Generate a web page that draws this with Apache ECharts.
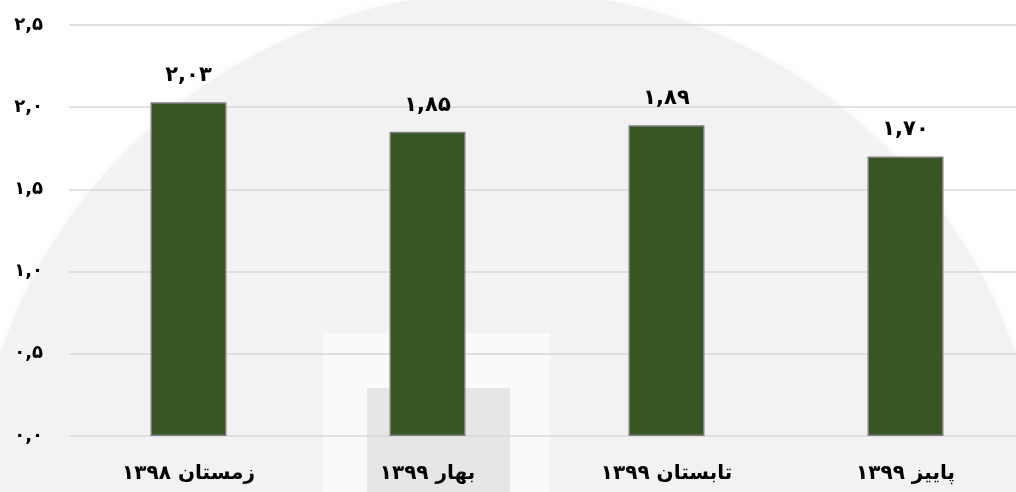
<!DOCTYPE html>
<html><head><meta charset="utf-8">
<script src="https://cdn.jsdelivr.net/npm/echarts@6/dist/echarts.min.js"></script>
<style>html,body{margin:0;padding:0;background:#fff;overflow:hidden}#c{width:1025px;height:492px}</style>
</head><body><div id="c"></div>
<script>
const categories = ['زمستان ۱۳۹۸', 'بهار ۱۳۹۹', 'تابستان ۱۳۹۹', 'پاییز ۱۳۹۹'];
const values = [2.03, 1.85, 1.89, 1.70];
const yTicks = [0, 0.5, 1.0, 1.5, 2.0, 2.5];

const fa = s => String(s).replace(/[0-9]/g, d => '۰۱۲۳۴۵۶۷۸۹'[d]).replace('.', ',');
const fontFam = '"DejaVu Sans", sans-serif';

const chart = echarts.init(document.getElementById('c'));
chart.setOption({
  backgroundColor: '#ffffff',
  graphic: [
    { type: 'circle', shape: { cx: 508, cy: 528, r: 537 }, style: { fill: '#f2f2f2', shadowBlur: 12, shadowColor: 'rgba(0,0,0,0.03)' }, z: -10, silent: true },
    { type: 'rect', shape: { x: 323, y: 333, width: 227, height: 170 }, style: { fill: '#fafafa' }, z: -9, silent: true },
    { type: 'rect', shape: { x: 367, y: 388, width: 143, height: 110 }, style: { fill: '#e6e6e6' }, z: -8, silent: true }
  ],
  grid: { left: 69, right: 0, top: 25, bottom: 56 },
  xAxis: {
    type: 'category', data: categories,
    axisLine: { show: false }, axisTick: { show: false },
    axisLabel: { margin: 28, fontSize: 20, fontWeight: 'bold', color: '#000', fontFamily: fontFam }
  },
  yAxis: {
    type: 'value', min: yTicks[0], max: yTicks[yTicks.length - 1], interval: 0.5,
    axisLine: { show: false }, axisTick: { show: false },
    splitLine: { lineStyle: { color: '#d9d9d9', width: 1.5 } },
    axisLabel: { margin: 26, fontSize: 18, fontWeight: 'bold', color: '#000', fontFamily: fontFam,
      formatter: v => fa(v.toFixed(1)) }
  },
  series: [{
    type: 'bar', data: values, barWidth: 76,
    itemStyle: { color: '#375623', borderColor: '#7f7f7f', borderWidth: 1.5 },
    label: { show: true, position: 'top', distance: 16, fontSize: 21, fontWeight: 'bold', color: '#000', fontFamily: fontFam,
      formatter: p => fa(p.value.toFixed(2)) }
  }]
});
</script></body></html>
